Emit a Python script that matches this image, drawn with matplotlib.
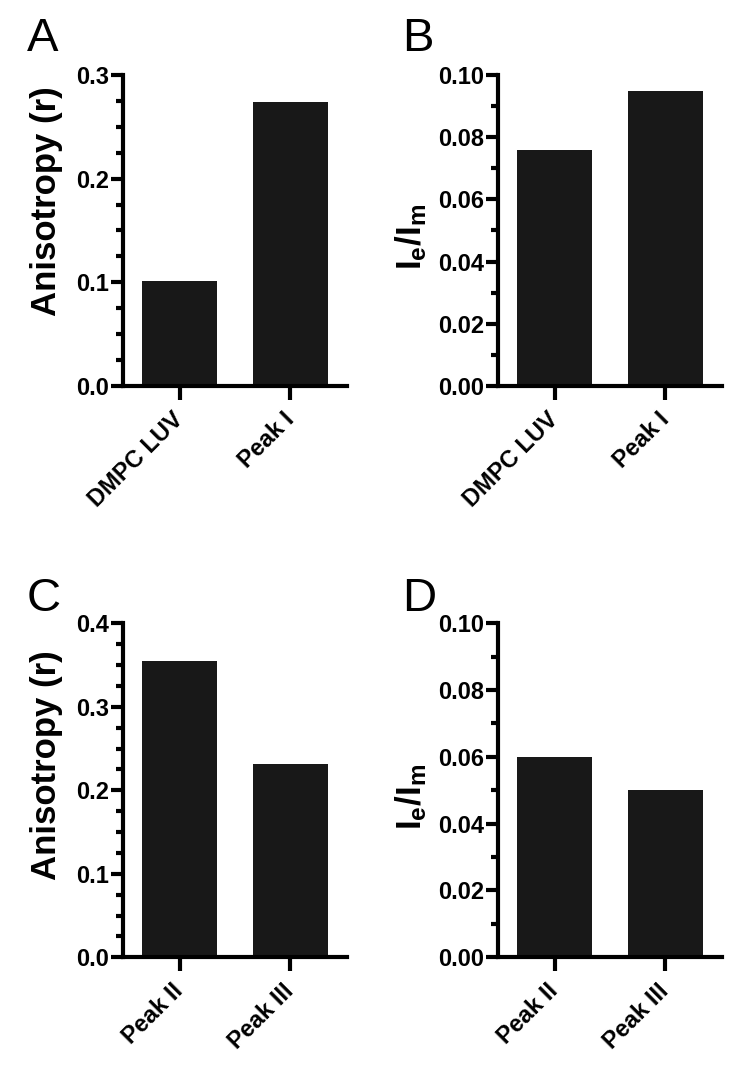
import matplotlib
matplotlib.use("Agg")
import matplotlib.pyplot as plt
from matplotlib.ticker import MultipleLocator

plt.rcParams['font.family'] = ['Liberation Sans', 'DejaVu Sans']
plt.rcParams['mathtext.fontset'] = 'custom'
plt.rcParams['mathtext.rm'] = 'Liberation Sans:bold'
plt.rcParams['mathtext.it'] = 'Liberation Sans:bold'

# panel data
cats_top = ["DMPC LUV", "Peak I"]
cats_bot = ["Peak II", "Peak III"]
aniso_top = [0.101, 0.274]
ratio_top = [0.076, 0.095]
aniso_bot = [0.355, 0.232]
ratio_bot = [0.060, 0.050]

ylab_aniso = "Anisotropy (r)"
ylab_ratio = r"I$_{e}$/I$_{m}$"

bar_color = "#181818"

fig = plt.figure(figsize=(7.5, 10.72), dpi=100)

def panel(rect, cats, vals, ymax, major, minor, fmt, ylabel, letter, letter_xy, labx, laby):
    ax = fig.add_axes(rect)
    x = list(range(len(cats)))
    ax.bar(x, vals, width=0.67, color=bar_color, edgecolor="none", zorder=2)
    ax.set_xlim(-0.51, 1.51)
    ax.set_ylim(0, ymax)
    ax.yaxis.set_major_locator(MultipleLocator(major))
    ax.yaxis.set_minor_locator(MultipleLocator(minor))
    ax.yaxis.set_major_formatter(plt.FormatStrFormatter(fmt))
    ax.set_xticks(x)
    ax.set_xticklabels(cats, rotation=45, ha="right", va="center",
                       rotation_mode="anchor", fontsize=17, fontweight="bold")
    for lbl in ax.get_yticklabels():
        lbl.set_fontweight("bold")
    ax.tick_params(axis="y", which="major", length=9, width=3, labelsize=17, pad=1)
    ax.tick_params(axis="y", which="minor", length=5, width=3)
    ax.tick_params(axis="x", which="major", length=10, width=3, pad=12)
    for s in ["top", "right"]:
        ax.spines[s].set_visible(False)
    for s in ["left", "bottom"]:
        ax.spines[s].set_linewidth(3)
    ax.set_ylabel(ylabel, fontsize=25, fontweight="bold")
    ax.yaxis.set_label_coords(labx, laby)
    fig.text(letter_xy[0], letter_xy[1], letter, fontsize=34, ha="left", va="baseline")
    return ax

w = 0.2987
panel([0.164, 0.640, w, 0.290], cats_top, aniso_top, 0.3, 0.1, 0.025, "%.1f",
      ylab_aniso, "A", (0.036, 1 - 51 / 1072), -0.27, 0.595)
panel([0.664, 0.640, w, 0.290], cats_top, ratio_top, 0.10, 0.02, 0.01, "%.2f",
      ylab_ratio, "B", (0.536, 1 - 51 / 1072), -0.31, 0.48)
panel([0.164, 0.107, w, 0.3116], cats_bot, aniso_bot, 0.4, 0.1, 0.025, "%.1f",
      ylab_aniso, "C", (0.036, 1 - 611 / 1072), -0.27, 0.575)
panel([0.664, 0.107, w, 0.3116], cats_bot, ratio_bot, 0.10, 0.02, 0.01, "%.2f",
      ylab_ratio, "D", (0.536, 1 - 611 / 1072), -0.31, 0.48)

fig.savefig("out.png", dpi=100)
